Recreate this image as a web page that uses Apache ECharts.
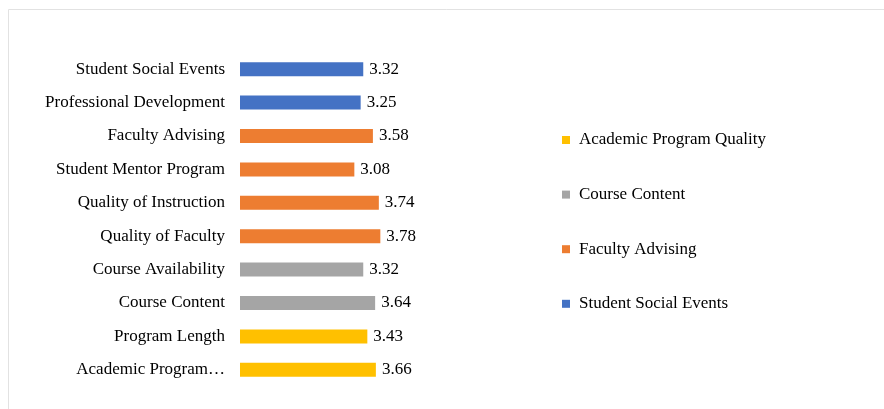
<!DOCTYPE html>
<html>
<head>
<meta charset="utf-8">
<script src="https://cdn.jsdelivr.net/npm/echarts@6/dist/echarts.min.js"></script>
<style>
  html, body { margin: 0; padding: 0; background: #fff; }
  #chart { width: 884px; height: 409px; }
</style>
</head>
<body>
<div id="chart"></div>
<script>
// Categories, bottom to top
const categories = [
  'Academic Program Quality', 'Program Length', 'Course Content', 'Course Availability',
  'Quality of Faculty', 'Quality of Instruction', 'Student Mentor Program',
  'Faculty Advising', 'Professional Development', 'Student Social Events'
];
const categoryLabels = [
  'Academic Program…', 'Program Length', 'Course Content', 'Course Availability',
  'Quality of Faculty', 'Quality of Instruction', 'Student Mentor Program',
  'Faculty Advising', 'Professional Development', 'Student Social Events'
];
// Mean ratings per group (null where the category belongs to another group)
const programQuality = [3.66, 3.43, null, null, null, null, null, null, null, null];
const courseContent  = [null, null, 3.64, 3.32, null, null, null, null, null, null];
const facultyAdvising = [null, null, null, null, 3.78, 3.74, 3.08, 3.58, null, null];
const socialEvents   = [null, null, null, null, null, null, null, null, 3.25, 3.32];
const seriesNames = ['Academic Program Quality', 'Course Content', 'Faculty Advising', 'Student Social Events'];
const seriesColors = ['#FFC000', '#A5A5A5', '#ED7D31', '#4472C4'];
const seriesData = [programQuality, courseContent, facultyAdvising, socialEvents];

const font = '"Liberation Serif", "Times New Roman", serif';
const chart = echarts.init(document.getElementById('chart'));

chart.setOption({
  animation: false,
  backgroundColor: '#fff',
  textStyle: { fontFamily: font },
  graphic: [{
    type: 'rect',
    shape: { x: 8.5, y: 9.5, width: 900, height: 420 },
    style: { fill: 'none', stroke: '#e2e2e2', lineWidth: 1 },
    silent: true
  }],
  grid: { left: 240, top: 52.5, width: 148.5, height: 334, containLabel: false },
  xAxis: {
    type: 'value', min: 0, max: 4, show: false
  },
  yAxis: {
    type: 'category',
    data: categories,
    axisLine: { show: false },
    axisTick: { show: false },
    axisLabel: {
      margin: 15,
      fontFamily: font,
      fontSize: 17,
      color: '#000',
      formatter: (v, i) => categoryLabels[i]
    }
  },
  legend: {
    orient: 'vertical',
    left: 562,
    top: 131.5,
    padding: 0,
    itemWidth: 8,
    itemHeight: 8,
    itemGap: 37.6,
    icon: 'rect',
    data: seriesNames,
    textStyle: { fontFamily: font, fontSize: 17, lineHeight: 17, color: '#000', padding: [0, 0, 0, 4] }
  },
  series: seriesData.map((d, i) => ({
    name: seriesNames[i],
    type: 'bar',
    stack: 'all',
    data: d,
    barWidth: 14,
    itemStyle: { color: seriesColors[i] },
    label: {
      show: true,
      position: 'right',
      distance: 6,
      fontFamily: font,
      fontSize: 17,
      color: '#000',
      formatter: p => (p.value == null ? '' : p.value.toFixed(2))
    }
  }))
});
</script>
</body>
</html>
